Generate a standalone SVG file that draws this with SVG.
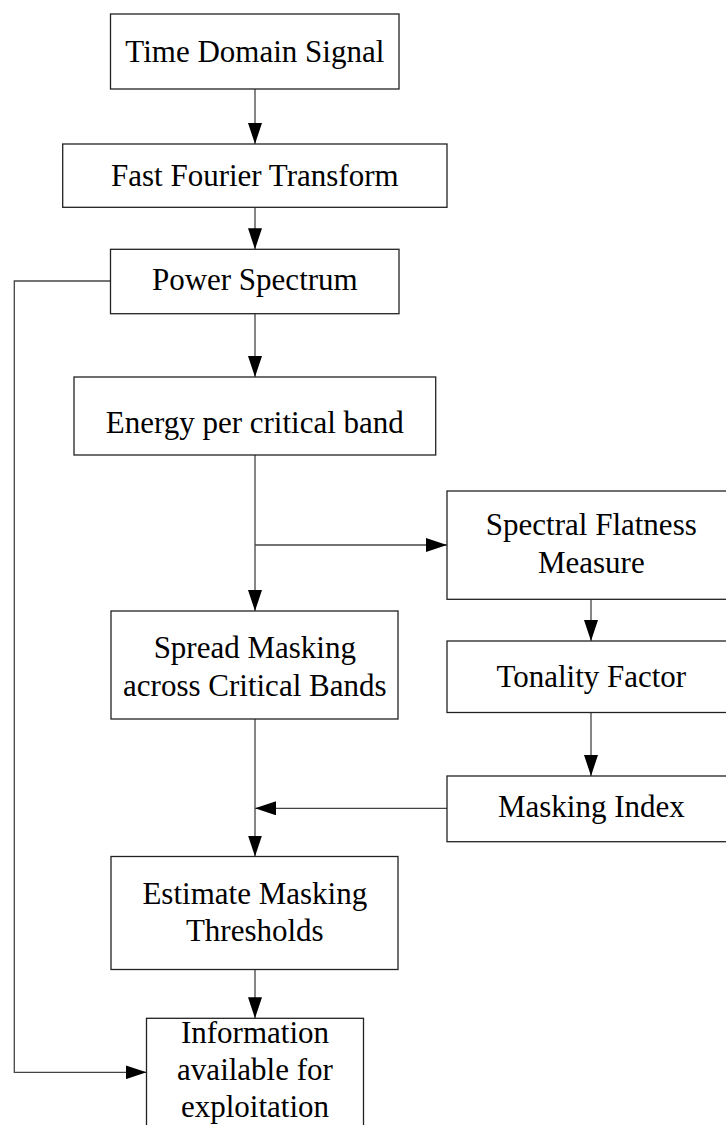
<svg xmlns="http://www.w3.org/2000/svg" width="726" height="1125" viewBox="0 0 726 1125">
<style>
.box{fill:#fff;stroke:#222;stroke-width:1.3}
.lbl{font-family:"Liberation Serif","Times New Roman",serif;font-size:31px;fill:#000;text-anchor:middle}
.ln{fill:none;stroke:#444;stroke-width:1.3}
</style>
<defs>
<marker id="ah" markerUnits="userSpaceOnUse" markerWidth="21" markerHeight="14" refX="21" refY="7" orient="auto" viewBox="0 0 21 14">
<path d="M0,0 L21,7 L0,14 z" fill="#000"/>
</marker>
</defs>
<rect width="726" height="1125" fill="#fff"/>
<g id="connectors">
<line class="ln" x1="255" y1="89" x2="255" y2="144" marker-end="url(#ah)"/>
<line class="ln" x1="255" y1="207.3" x2="255" y2="249.3" marker-end="url(#ah)"/>
<line class="ln" x1="255" y1="313.7" x2="255" y2="377" marker-end="url(#ah)"/>
<line class="ln" x1="255" y1="455" x2="255" y2="611" marker-end="url(#ah)"/>
<line class="ln" x1="255" y1="545" x2="447" y2="545" marker-end="url(#ah)"/>
<line class="ln" x1="591" y1="599.3" x2="591" y2="641" marker-end="url(#ah)"/>
<line class="ln" x1="591" y1="712.5" x2="591" y2="776" marker-end="url(#ah)"/>
<line class="ln" x1="447" y1="808.3" x2="255" y2="808.3" marker-end="url(#ah)"/>
<line class="ln" x1="255" y1="719" x2="255" y2="856.5" marker-end="url(#ah)"/>
<line class="ln" x1="255" y1="969.5" x2="255" y2="1018.3" marker-end="url(#ah)"/>
<polyline class="ln" points="110.5,281 14.3,281 14.3,1072.3 146.5,1072.3" marker-end="url(#ah)"/>
</g>
<g id="time-domain-signal">
<rect class="box" x="110.5" y="14" width="288.5" height="75"/>
<text class="lbl" x="254.8" y="62">Time Domain Signal</text>
</g>
<g id="fft">
<rect class="box" x="62.7" y="144" width="384.3" height="63.3"/>
<text class="lbl" x="254.8" y="185.5">Fast Fourier Transform</text>
</g>
<g id="power-spectrum">
<rect class="box" x="110.5" y="249.3" width="288.5" height="64.4"/>
<text class="lbl" x="254.8" y="290">Power Spectrum</text>
</g>
<g id="energy">
<rect class="box" x="74" y="377" width="361.7" height="78"/>
<text class="lbl" x="254.8" y="433.3">Energy per critical band</text>
</g>
<g id="spectral-flatness">
<rect class="box" x="447" y="491" width="288" height="108.3"/>
<text class="lbl" x="591.3" y="534.6">Spectral Flatness</text>
<text class="lbl" x="591.3" y="572.5">Measure</text>
</g>
<g id="tonality">
<rect class="box" x="447" y="641" width="288" height="71.5"/>
<text class="lbl" x="591.3" y="686.5">Tonality Factor</text>
</g>
<g id="masking-index">
<rect class="box" x="447" y="776" width="288" height="65.7"/>
<text class="lbl" x="591.3" y="817">Masking Index</text>
</g>
<g id="spread-masking">
<rect class="box" x="111" y="611" width="287" height="108"/>
<text class="lbl" x="254.8" y="658.3">Spread Masking</text>
<text class="lbl" x="254.8" y="695.7">across Critical Bands</text>
</g>
<g id="estimate">
<rect class="box" x="111" y="856.5" width="287" height="113"/>
<text class="lbl" x="254.8" y="904.3">Estimate Masking</text>
<text class="lbl" x="254.8" y="941">Thresholds</text>
</g>
<g id="information">
<rect class="box" x="146.5" y="1018.3" width="217" height="130"/>
<text class="lbl" x="255" y="1042.5">Information</text>
<text class="lbl" x="255" y="1080">available for</text>
<text class="lbl" x="255" y="1117">exploitation</text>
</g>
</svg>
